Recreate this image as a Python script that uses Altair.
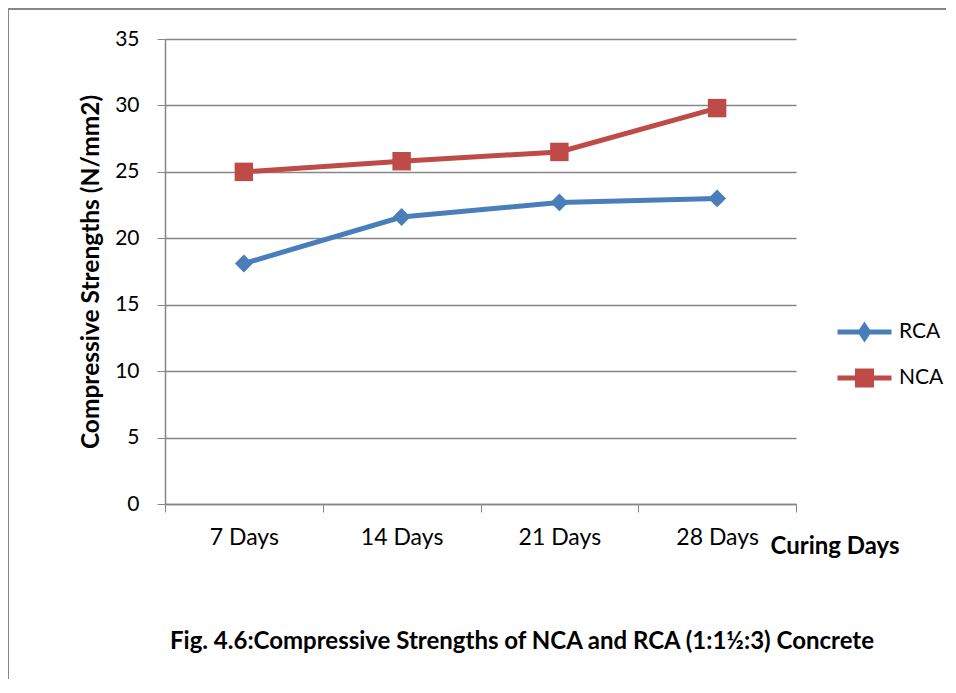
import altair as alt
import pandas as pd

days = ["7 Days", "14 Days", "21 Days", "28 Days"]
rca = [18.1, 21.6, 22.7, 23.0]
nca = [25.0, 25.8, 26.5, 29.8]
series_names = ["RCA", "NCA"]
colors = ["#4A7EBB", "#BE4B48"]
marker_shapes = ["diamond", "square"]
marker_sizes = [320, 340]
fig_title = "Fig. 4.6:Compressive Strengths of NCA and RCA (1:1½:3) Concrete"

rows = []
for d, v in zip(days, rca):
    rows.append({"day": d, "value": v, "series": "RCA"})
for d, v in zip(days, nca):
    rows.append({"day": d, "value": v, "series": "NCA"})
df = pd.DataFrame(rows)

FONT = "Lato"
GRID = "#868686"

x_enc = alt.X(
    "day:N",
    sort=days,
    scale=alt.Scale(paddingInner=0, paddingOuter=0),
    axis=alt.Axis(
        title="Curing Days",
        titleFontWeight="bold",
        titleFontSize=24,
        titleFont=FONT,
        titleColor="black",
        titleAlign="left",
        titleBaseline="alphabetic",
        titleAnchor="start",
        titleX=605,
        titleY=49,
        labelAngle=0,
        labelFontSize=23,
        labelFont=FONT,
        labelColor="black",
        labelPadding=14,
        tickBand="extent",
        tickSize=8,
        tickColor=GRID,
        domainColor=GRID,
        domainWidth=1.5,
        grid=False,
    ),
)
y_enc = alt.Y(
    "value:Q",
    scale=alt.Scale(domain=[0, 35], nice=False),
    axis=alt.Axis(
        title="Compressive Strengths (N/mm2)",
        titleFontWeight="bold",
        titleFontSize=24.5,
        titleFont=FONT,
        titleColor="black",
        titlePadding=11,
        values=[0, 5, 10, 15, 20, 25, 30, 35],
        labelFontSize=21,
        labelFont=FONT,
        labelColor="black",
        labelPadding=18,
        tickSize=8,
        tickColor=GRID,
        domainColor=GRID,
        domainWidth=1.5,
        gridColor=GRID,
        gridWidth=1.5,
        gridOpacity=1,
    ),
)

base = alt.Chart(df)

series_layers = []
for name, col, shp, sz in zip(series_names, colors, marker_shapes, marker_sizes):
    sub = base.transform_filter(alt.datum.series == name)
    series_layers.append(
        sub.mark_line(strokeWidth=5, color=col).encode(x=x_enc, y=y_enc)
    )
    series_layers.append(
        sub.mark_point(filled=True, opacity=1, size=sz, shape=shp, color=col).encode(
            x=x_enc, y=y_enc
        )
    )

# legend symbols: a line segment with a marker, drawn as stroked paths
diamond_path = "M-1,0L1,0M0,-0.22L0.15,0L0,0.22L-0.15,0ZM0,-0.08L0.05,0L0,0.08L-0.05,0Z"
square_path = ("M-1,0L1,0M-0.26,-0.26L0.26,-0.26L0.26,0.26L-0.26,0.26Z"
               "M-0.12,-0.12L0.12,-0.12L0.12,0.12L-0.12,0.12Z")

leg = alt.Legend(title=None)
legend_layer = base.transform_filter("false").mark_point(
    filled=False, opacity=1, strokeWidth=5
).encode(
    x=x_enc,
    y=y_enc,
    color=alt.Color("series:N", scale=alt.Scale(domain=series_names, range=colors), legend=leg),
    shape=alt.Shape(
        "series:N",
        scale=alt.Scale(domain=series_names, range=[diamond_path, square_path]),
        legend=leg,
    ),
)

border = base.mark_rule(color=GRID, strokeWidth=1.5).encode(
    x=alt.value(-157), x2=alt.value(800), y=alt.value(-30)
)
border_left = base.mark_rule(color=GRID, strokeWidth=1.5).encode(
    x=alt.value(-157), y=alt.value(-30), y2=alt.value(660)
)

title_text = alt.Chart(pd.DataFrame({"t": [fig_title]})).mark_text(
    font=FONT, fontSize=24, fontWeight="bold", color="black",
    align="center", baseline="middle",
).encode(text="t:N", x=alt.value(357), y=alt.value(603))

chart = (
    alt.layer(border, border_left, *series_layers, legend_layer, title_text)
    .properties(
        width=631,
        height=465,
        autosize=alt.AutoSizeParams(type="none"),
        padding={"left": 157, "top": 31, "right": 150, "bottom": 175},
    )
    .configure_view(stroke=None)
    .configure_legend(
        orient="none",
        legendX=670,
        legendY=273,
        symbolSize=2916,
        symbolStrokeWidth=5,
        clipHeight=40,
        rowPadding=6,
        labelFontSize=21,
        labelFont=FONT,
        labelColor="black",
        labelOffset=5,
    )
)

chart.save("out.html", embed_options={"renderer": "svg", "actions": False})
